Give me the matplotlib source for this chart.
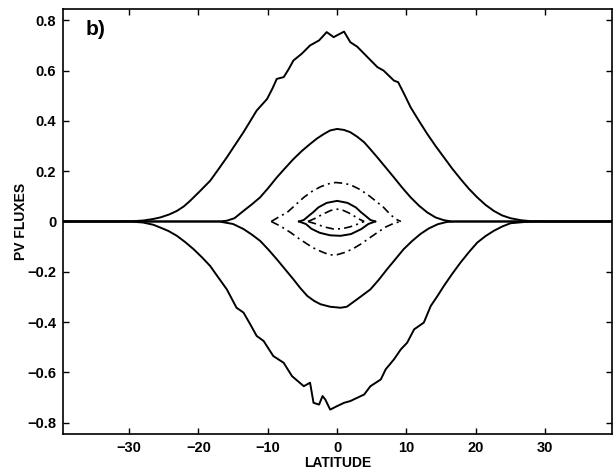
import matplotlib
matplotlib.use("Agg")
import matplotlib.pyplot as plt

# ---- data (latitude, PV flux) ----
lat_big_pos = [-39.5, -31.0, -29.5, -27.9, -26.5, -25.5, -24.2, -23.1, -22.1, -21.2, -19.8, -18.3,
               -17.1, -15.9, -14.7, -13.5, -12.5, -11.6, -10.1, -9.3, -8.7, -7.7, -7.0,
               -6.3, -5.1, -3.9, -2.6, -1.5, -0.5, 1.0, 1.9, 2.9, 3.9, 5.8, 6.7, 8.2, 8.8, 9.7,
               10.6, 11.8, 13.0, 14.2, 15.4, 16.6, 17.8, 19.0, 20.2, 21.4, 22.6, 23.8, 25.0,
               26.5, 28.0, 30.0, 39.5]
val_big_pos = [0.0, 0.0, 0.001, 0.004, 0.010, 0.016, 0.028, 0.042, 0.060, 0.082, 0.120, 0.162,
               0.208, 0.255, 0.305, 0.355, 0.400, 0.441, 0.487, 0.530, 0.567, 0.574, 0.605,
               0.640, 0.667, 0.700, 0.720, 0.753, 0.733, 0.755, 0.713, 0.695, 0.667, 0.614,
               0.600, 0.560, 0.554, 0.505, 0.454, 0.400, 0.348, 0.300, 0.255, 0.210, 0.169,
               0.130, 0.096, 0.066, 0.042, 0.024, 0.013, 0.005, 0.001, 0.0, 0.0]

lat_mid_pos = [-39.5, -17.0, -15.9, -14.8, -13.5, -12.3, -11.1, -9.9, -8.7, -7.5, -6.3, -5.1,
               -3.9, -2.9, -1.9, -1.0, 0.0, 1.0, 1.9, 2.9, 3.9, 4.8, 5.8, 7.0, 8.2, 9.4,
               10.6, 11.8, 13.0, 14.2, 15.4, 16.6, 39.5]
val_mid_pos = [0.0, 0.0, 0.003, 0.013, 0.042, 0.068, 0.096, 0.134, 0.175, 0.212, 0.248, 0.280,
               0.308, 0.330, 0.348, 0.362, 0.368, 0.364, 0.355, 0.337, 0.315, 0.287, 0.255,
               0.215, 0.175, 0.134, 0.096, 0.063, 0.036, 0.016, 0.005, 0.0, 0.0]

lat_dd_out_pos = [-9.5, -8.4, -7.2, -6.0, -4.8, -3.6, -2.4, -1.2, -0.2, 0.9, 1.9, 3.1, 4.3,
                  5.5, 6.7, 7.6, 8.4, 9.2]
val_dd_out_pos = [0.0, 0.018, 0.036, 0.066, 0.096, 0.120, 0.138, 0.150, 0.155, 0.152, 0.146,
                  0.130, 0.109, 0.083, 0.056, 0.030, 0.010, 0.0]

lat_sm_pos = [-5.5, -4.8, -4.2, -3.4, -2.7, -1.5, 0.0, 1.5, 2.7, 3.4, 4.2, 4.8, 5.5]
val_sm_pos = [0.0, 0.006, 0.020, 0.038, 0.056, 0.074, 0.082, 0.074, 0.056, 0.038, 0.020,
              0.006, 0.0]

lat_dd_in_pos = [-4.2, -3.2, -2.0, -0.9, 0.0, 0.9, 2.0, 3.0, 3.9]
val_dd_in_pos = [0.0, 0.012, 0.030, 0.044, 0.049, 0.044, 0.030, 0.012, 0.0]

lat_big_neg = [-39.5, -30.0, -28.0, -26.5, -25.5, -24.3, -23.1, -21.9, -20.7, -19.5, -18.3,
               -17.3, -15.9, -14.5, -13.5, -12.5, -11.6, -10.6, -9.2, -7.7, -6.5, -4.8, -3.9,
               -3.4, -2.6, -2.1, -1.7, -1.0, 0.0, 1.0, 1.9, 2.9, 3.9, 4.8, 6.3, 7.0, 8.2, 9.2,
               10.1, 11.1, 12.5, 13.5, 14.5, 15.4, 16.6, 17.8, 19.0, 20.2, 21.4, 22.6, 23.8,
               25.0, 27.0, 29.0, 39.5]
val_big_neg = [0.0, 0.0, -0.004, -0.013, -0.024, -0.038, -0.057, -0.082, -0.110, -0.142,
               -0.177, -0.216, -0.270, -0.343, -0.362, -0.410, -0.455, -0.475, -0.535, -0.562,
               -0.615, -0.655, -0.641, -0.721, -0.728, -0.694, -0.708, -0.748, -0.734, -0.721,
               -0.714, -0.701, -0.688, -0.655, -0.628, -0.588, -0.548, -0.508, -0.482, -0.429,
               -0.402, -0.336, -0.295, -0.256, -0.208, -0.163, -0.122, -0.084, -0.058, -0.037,
               -0.020, -0.007, -0.002, 0.0, 0.0]

lat_mid_neg = [-39.5, -17.0, -15.0, -13.5, -12.3, -11.1, -9.9, -8.7, -7.5, -6.3, -5.3, -4.3,
               -3.3, -2.4, -1.0, 0.5, 1.4, 2.9, 4.8, 6.0, 7.2, 8.4, 9.6, 10.8, 12.0, 13.2, 14.5,
               15.8, 17.0, 39.5]
val_mid_neg = [0.0, 0.0, -0.010, -0.030, -0.052, -0.077, -0.112, -0.150, -0.190, -0.230,
               -0.265, -0.296, -0.316, -0.329, -0.339, -0.343, -0.339, -0.309, -0.270, -0.232,
               -0.190, -0.150, -0.110, -0.078, -0.050, -0.028, -0.011, -0.002, 0.0, 0.0]

lat_dd_out_neg = [-9.5, -8.2, -6.7, -5.5, -4.3, -3.1, -1.9, -1.0, 0.0, 1.0, 2.2, 3.4, 4.6,
                  5.8, 7.0, 8.2, 9.2]
val_dd_out_neg = [0.0, -0.018, -0.044, -0.068, -0.090, -0.110, -0.124, -0.133, -0.132, -0.124,
                  -0.110, -0.090, -0.067, -0.044, -0.022, -0.007, 0.0]

lat_sm_neg = [-5.5, -4.5, -3.7, -2.5, -1.0, 0.5, 2.0, 3.5, 4.5, 5.5]
val_sm_neg = [0.0, -0.010, -0.029, -0.045, -0.055, -0.057, -0.050, -0.030, -0.010, 0.0]

lat_dd_in_neg = [-4.2, -3.0, -1.8, -0.5, 0.7, 1.9, 3.0, 3.9]
val_dd_in_neg = [0.0, -0.010, -0.022, -0.030, -0.029, -0.021, -0.010, 0.0]

xticks = [-30, -20, -10, 0, 10, 20, 30]
yticks = [-0.8, -0.6, -0.4, -0.2, 0, 0.2, 0.4, 0.6, 0.8]
ytick_labels = ["\u22120.8", "\u22120.6", "\u22120.4", "\u22120.2", "0", "0.2", "0.4", "0.6", "0.8"]
xtick_labels = ["\u221230", "\u221220", "\u221210", "0", "10", "20", "30"]

# ---- plotting ----
plt.rcParams['font.family'] = ['Liberation Sans', 'DejaVu Sans']
fig = plt.figure(figsize=(6.13, 4.72), dpi=100)
ax = fig.add_axes([0.103, 0.0805, 0.895, 0.9005])

solid = dict(color='black', lw=1.4, linestyle='-', solid_joinstyle='round')
dashdot = dict(color='black', lw=1.2, linestyle=(0, (5, 2.5, 1.2, 2.5)))

ax.plot(lat_big_pos, val_big_pos, **solid)
ax.plot(lat_mid_pos, val_mid_pos, **solid)
ax.plot(lat_sm_pos, val_sm_pos, **solid)
ax.plot(lat_big_neg, val_big_neg, **solid)
ax.plot(lat_mid_neg, val_mid_neg, **solid)
ax.plot(lat_sm_neg, val_sm_neg, **solid)
ax.plot(lat_dd_out_pos, val_dd_out_pos, **dashdot)
ax.plot(lat_dd_in_pos, val_dd_in_pos, **dashdot)
ax.plot(lat_dd_out_neg, val_dd_out_neg, **dashdot)
ax.plot(lat_dd_in_neg, val_dd_in_neg, **dashdot)

ax.set_xlim(-39.5, 39.6)
ax.set_ylim(-0.845, 0.845)
ax.set_xticks(xticks)
ax.set_xticklabels(xtick_labels)
ax.set_yticks(yticks)
ax.set_yticklabels(ytick_labels)
ax.tick_params(direction='in', top=True, right=True, length=4, width=1.0,
               labelsize=10.5, pad=5)
for lab in ax.get_xticklabels() + ax.get_yticklabels():
    lab.set_fontweight('bold')
for sp in ax.spines.values():
    sp.set_linewidth(1.2)

ax.set_xlabel("LATITUDE", fontsize=10, fontweight='bold', labelpad=1)
ax.set_ylabel("PV FLUXES", fontsize=10, fontweight='bold', labelpad=-1)
ax.text(-36.3, 0.765, "b)", fontsize=15, fontweight='bold', va='center', ha='left')

fig.savefig("out.png", dpi=100)
